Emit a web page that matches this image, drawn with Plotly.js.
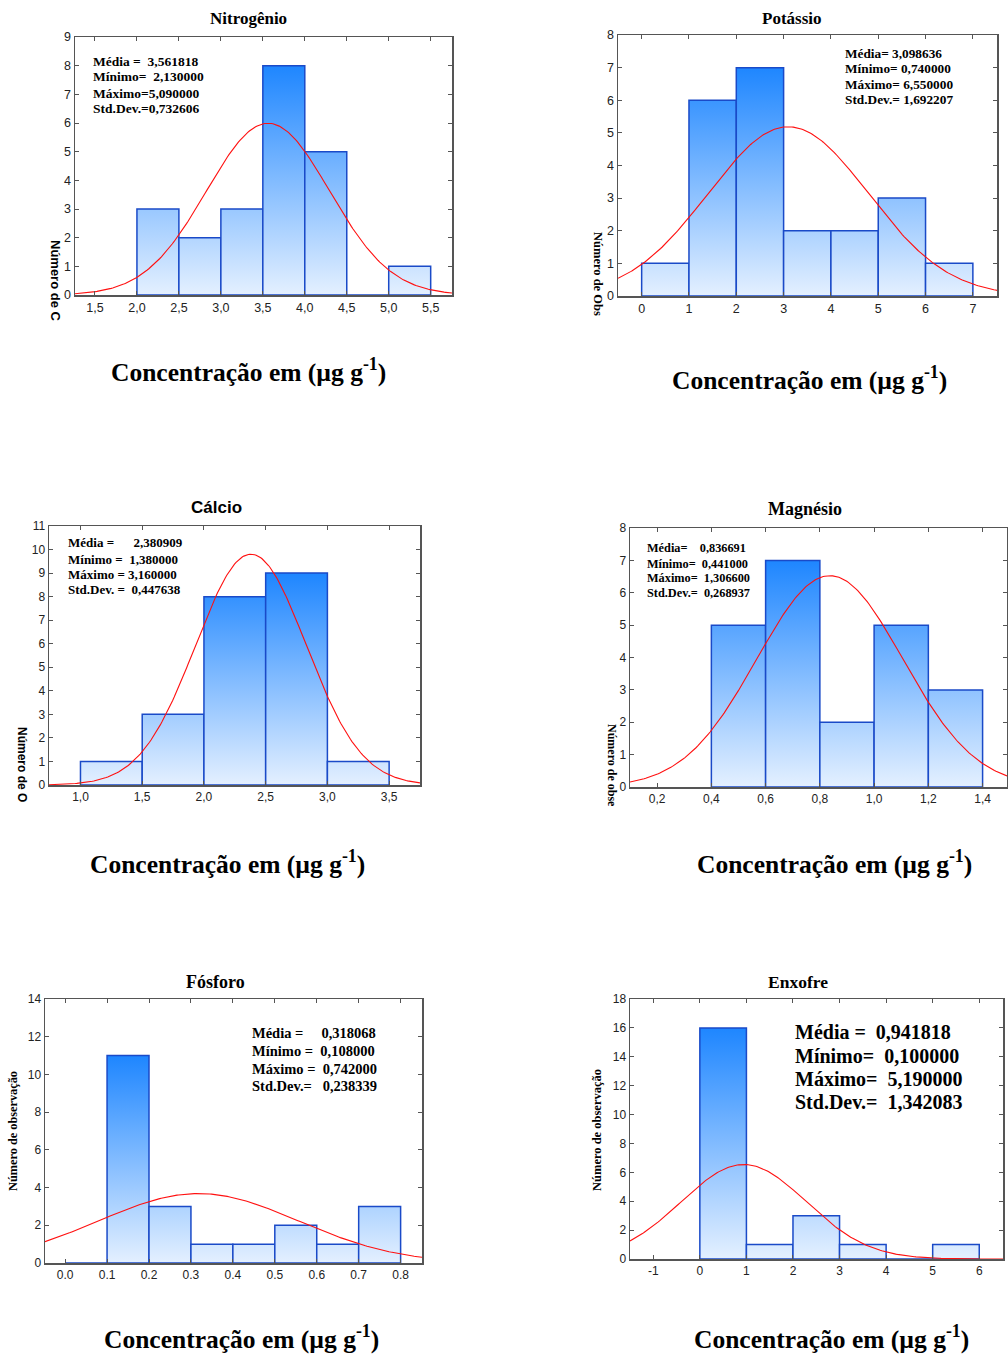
<!DOCTYPE html>
<html><head><meta charset="utf-8">
<script src="https://cdn.plot.ly/plotly-3.0.1.min.js"></script>
<style>body{margin:0;background:#fff}#chart{width:1008px;height:1354px}</style>
</head><body><div id="chart"></div><script>
// ---------- DATA ----------
const nitroEdges = [2.0, 2.5, 3.0, 3.5, 4.0, 4.5, 5.0, 5.5];
const nitroCounts = [3, 2, 3, 8, 5, 0, 1];
const nitroStats = [3.561818, 2.130000, 5.090000, 0.732606];
const nitroTickVals = [1.5, 2.0, 2.5, 3.0, 3.5, 4.0, 4.5, 5.0, 5.5];
const nitroTickText = ['1,5','2,0','2,5','3,0','3,5','4,0','4,5','5,0','5,5'];

const potEdges = [0, 1, 2, 3, 4, 5, 6, 7];
const potCounts = [1, 6, 7, 2, 2, 3, 1];
const potStats = [3.098636, 0.740000, 6.550000, 1.692207];
const potTickVals = [0, 1, 2, 3, 4, 5, 6, 7];
const potTickText = ['0','1','2','3','4','5','6','7'];

const calEdges = [1.0, 1.5, 2.0, 2.5, 3.0, 3.5];
const calCounts = [1, 3, 8, 9, 1];
const calStats = [2.380909, 1.380000, 3.160000, 0.447638];
const calTickVals = [1.0, 1.5, 2.0, 2.5, 3.0, 3.5];
const calTickText = ['1,0','1,5','2,0','2,5','3,0','3,5'];

const magEdges = [0.4, 0.6, 0.8, 1.0, 1.2, 1.4];
const magCounts = [5, 7, 2, 5, 3];
const magStats = [0.836691, 0.441000, 1.306600, 0.268937];
const magTickVals = [0.2, 0.4, 0.6, 0.8, 1.0, 1.2, 1.4];
const magTickText = ['0,2','0,4','0,6','0,8','1,0','1,2','1,4'];

const fosEdges = [0.0, 0.1, 0.2, 0.3, 0.4, 0.5, 0.6, 0.7, 0.8];
const fosCounts = [0, 11, 3, 1, 1, 2, 1, 3];
const fosStats = [0.318068, 0.108000, 0.742000, 0.238339];
const fosTickVals = [0.0, 0.1, 0.2, 0.3, 0.4, 0.5, 0.6, 0.7, 0.8];
const fosTickText = ['0.0','0.1','0.2','0.3','0.4','0.5','0.6','0.7','0.8'];

const enxEdges = [0, 1, 2, 3, 4, 5, 6];
const enxCounts = [16, 1, 3, 1, 0, 1];
const enxStats = [0.941818, 0.100000, 5.190000, 1.342083];
const enxTickVals = [-1, 0, 1, 2, 3, 4, 5, 6];
const enxTickText = ['-1','0','1','2','3','4','5','6'];

// ---------- LAYOUT CONFIG ----------
const W = 1008, H = 1354;
const serif = 'Liberation Serif, Times New Roman, serif';
const sans = 'Liberation Sans, Arial, sans-serif';
const NB = '\u00a0';

const panels = [
  {edges: nitroEdges, counts: nitroCounts, stats: nitroStats, tv: nitroTickVals, tt: nitroTickText,
   box: [75, 452, 37, 295], xr: [1.262, 5.754], yr: [0, 9], dy: 1, tickSize: 12.5,
   title: 'Nitrogênio', titleXY: [248, 19], titleFont: serif, titleSize: 17,
   labels: ['Média =' + NB + NB, 'Mínimo=' + NB + NB, 'Máximo=', 'Std.Dev.='], statX: 92, statY: [61, 77, 93, 109], statSize: 13.5,
   ytitle: 'Número de C', ytXY: [55, 281], ytAngle: 90, ytFont: sans, ytSize: 13,
   xlabXY: [248, 371]},
  {edges: potEdges, counts: potCounts, stats: potStats, tv: potTickVals, tt: potTickText,
   box: [618, 997, 35, 296], xr: [-0.5, 7.51], yr: [0, 8], dy: 1, tickSize: 12.5,
   title: 'Potássio', titleXY: [792, 18], titleFont: serif, titleSize: 17,
   labels: ['Média=' + NB, 'Mínimo=' + NB, 'Máximo=' + NB, 'Std.Dev.=' + NB], statX: 844, statY: [53.3, 68.5, 84.3, 99.5], statSize: 13.3,
   ytitle: 'Número de Obs', ytXY: [598, 274], ytAngle: 90, ytFont: serif, ytSize: 12.5,
   xlabXY: [809, 378]},
  {edges: calEdges, counts: calCounts, stats: calStats, tv: calTickVals, tt: calTickText,
   box: [49, 420, 526, 785], xr: [0.745, 3.75], yr: [0, 11], dy: 1, tickSize: 12,
   title: 'Cálcio', titleXY: [216, 507], titleFont: sans, titleSize: 17,
   labels: ['Média =' + NB.repeat(6), 'Mínimo =' + NB + NB, 'Máximo =' + NB, 'Std.Dev. =' + NB + NB], statX: 67, statY: [542.3, 559, 574.3, 589.3], statSize: 13,
   ytitle: 'Número de O', ytXY: [22, 764], ytAngle: 90, ytFont: sans, ytSize: 12,
   xlabXY: [227, 862]},
  {edges: magEdges, counts: magCounts, stats: magStats, tv: magTickVals, tt: magTickText,
   box: [630, 1007, 528, 787], xr: [0.10, 1.49], yr: [0, 8], dy: 1, tickSize: 12,
   title: 'Magnésio', titleXY: [805, 509], titleFont: serif, titleSize: 18,
   labels: ['Média=' + NB.repeat(4), 'Mínimo=' + NB + NB, 'Máximo=' + NB + NB, 'Std.Dev.=' + NB + NB], statX: 646, statY: [548.3, 563.7, 577.5, 592.7], statSize: 12.3,
   ytitle: 'Número de obse', ytXY: [612, 765], ytAngle: 90, ytFont: serif, ytSize: 12,
   xlabXY: [834, 862]},
  {edges: fosEdges, counts: fosCounts, stats: fosStats, tv: fosTickVals, tt: fosTickText,
   box: [45, 422, 999, 1263], xr: [-0.048, 0.851], yr: [0, 14], dy: 2, tickSize: 12,
   title: 'Fósforo', titleXY: [215, 982], titleFont: serif, titleSize: 18,
   labels: ['Média =' + NB.repeat(5), 'Mínimo =' + NB + NB, 'Máximo =' + NB + NB, 'Std.Dev.=' + NB.repeat(3)], statX: 251, statY: [1033.3, 1051, 1069, 1085.7], statSize: 14.5,
   ytitle: 'Número de observação', ytXY: [13, 1131], ytAngle: -90, ytFont: serif, ytSize: 12.3,
   xlabXY: [241, 1337]},
  {edges: enxEdges, counts: enxCounts, stats: enxStats, tv: enxTickVals, tt: enxTickText,
   box: [630, 1003, 999, 1259], xr: [-1.5, 6.51], yr: [0, 18], dy: 2, tickSize: 12,
   title: 'Enxofre', titleXY: [798, 982], titleFont: serif, titleSize: 17.5,
   labels: ['Média =' + NB + NB, 'Mínimo=' + NB + NB, 'Máximo=' + NB + NB, 'Std.Dev.=' + NB + NB], statX: 794, statY: [1032, 1055.7, 1078.5, 1101.7], statSize: 20,
   ytitle: 'Número de observação', ytXY: [597, 1130], ytAngle: -90, ytFont: serif, ytSize: 12.5,
   xlabXY: [831, 1337]}
];

const fmt = v => v.toFixed(6).replace('.', ',');
const px = x => x / W;
const py = y => 1 - y / H;

const traces = [];
const layout = {
  width: W, height: H, margin: {l: 0, r: 0, t: 0, b: 0},
  paper_bgcolor: '#fff', plot_bgcolor: '#fff', showlegend: false,
  annotations: []
};

panels.forEach((p, i) => {
  const sfx = i === 0 ? '' : String(i + 1);
  const xa = 'x' + sfx, ya = 'y' + sfx;
  const maxC = Math.max(...p.counts);
  // bars
  p.counts.forEach((c, j) => {
    const x0 = p.edges[j], x1 = p.edges[j + 1];
    traces.push({
      type: 'scatter', mode: 'lines', xaxis: xa, yaxis: ya,
      x: [x0, x0, x1, x1, x0], y: [0, c, c, 0, 0],
      fill: 'toself',
      fillgradient: {type: 'vertical', colorscale: [[0, '#E4F0FF'], [1, '#1E86FF']], start: 0, stop: maxC},
      line: {color: '#1A4AC8', width: 1.5},
      hoverinfo: 'skip'
    });
  });
  // normal fit curve
  const n = p.counts.reduce((a, b) => a + b, 0);
  const w = p.edges[1] - p.edges[0];
  const mu = p.stats[0], sd = p.stats[3];
  const cx = [], cy = [];
  const steps = 240;
  for (let k = 0; k <= steps; k++) {
    const x = p.xr[0] + (p.xr[1] - p.xr[0]) * k / steps;
    cx.push(x);
    cy.push(n * w * Math.exp(-0.5 * ((x - mu) / sd) ** 2) / (sd * Math.sqrt(2 * Math.PI)));
  }
  traces.push({type: 'scatter', mode: 'lines', xaxis: xa, yaxis: ya, x: cx, y: cy,
    line: {color: '#FF1010', width: 1.1}, hoverinfo: 'skip'});

  const axBase = {showgrid: false, zeroline: false, showline: true, mirror: 'ticks',
    linecolor: '#555', linewidth: 1.5, ticks: 'inside', ticklen: 4, tickcolor: '#555',
    tickfont: {family: sans, size: p.tickSize, color: '#222'}, fixedrange: true};
  layout['xaxis' + sfx] = Object.assign({}, axBase, {
    anchor: ya, domain: [px(p.box[0]), px(p.box[1])], range: p.xr,
    tickmode: 'array', tickvals: p.tv, ticktext: p.tt});
  layout['yaxis' + sfx] = Object.assign({}, axBase, {
    anchor: xa, domain: [py(p.box[3]), py(p.box[2])], range: p.yr,
    tickmode: 'linear', tick0: 0, dtick: p.dy});

  const A = layout.annotations;
  A.push({xref: 'paper', yref: 'paper', x: px(p.titleXY[0]), y: py(p.titleXY[1]),
    xanchor: 'center', yanchor: 'middle', showarrow: false,
    text: '<b>' + p.title + '</b>', font: {family: p.titleFont, size: p.titleSize, color: '#000'}});
  p.labels.forEach((l, k) => {
    A.push({xref: 'paper', yref: 'paper', x: px(p.statX), y: py(p.statY[k]),
      xanchor: 'left', yanchor: 'middle', align: 'left', showarrow: false, borderpad: 0,
      text: '<b>' + l + fmt(p.stats[k]) + '</b>',
      font: {family: serif, size: p.statSize, color: '#000'}});
  });
  A.push({xref: 'paper', yref: 'paper', x: px(p.ytXY[0]), y: py(p.ytXY[1]),
    xanchor: 'center', yanchor: 'middle', showarrow: false, textangle: p.ytAngle,
    text: '<b>' + p.ytitle + '</b>', font: {family: p.ytFont, size: p.ytSize, color: '#000'}});
  A.push({xref: 'paper', yref: 'paper', x: px(p.xlabXY[0]), y: py(p.xlabXY[1]),
    xanchor: 'center', yanchor: 'middle', showarrow: false,
    text: '<b>Concentração em (µg g<sup>-1</sup>)</b>', font: {family: serif, size: 25.5, color: '#000'}});
});

Plotly.newPlot('chart', traces, layout, {staticPlot: true, displayModeBar: false});
</script></body></html>
